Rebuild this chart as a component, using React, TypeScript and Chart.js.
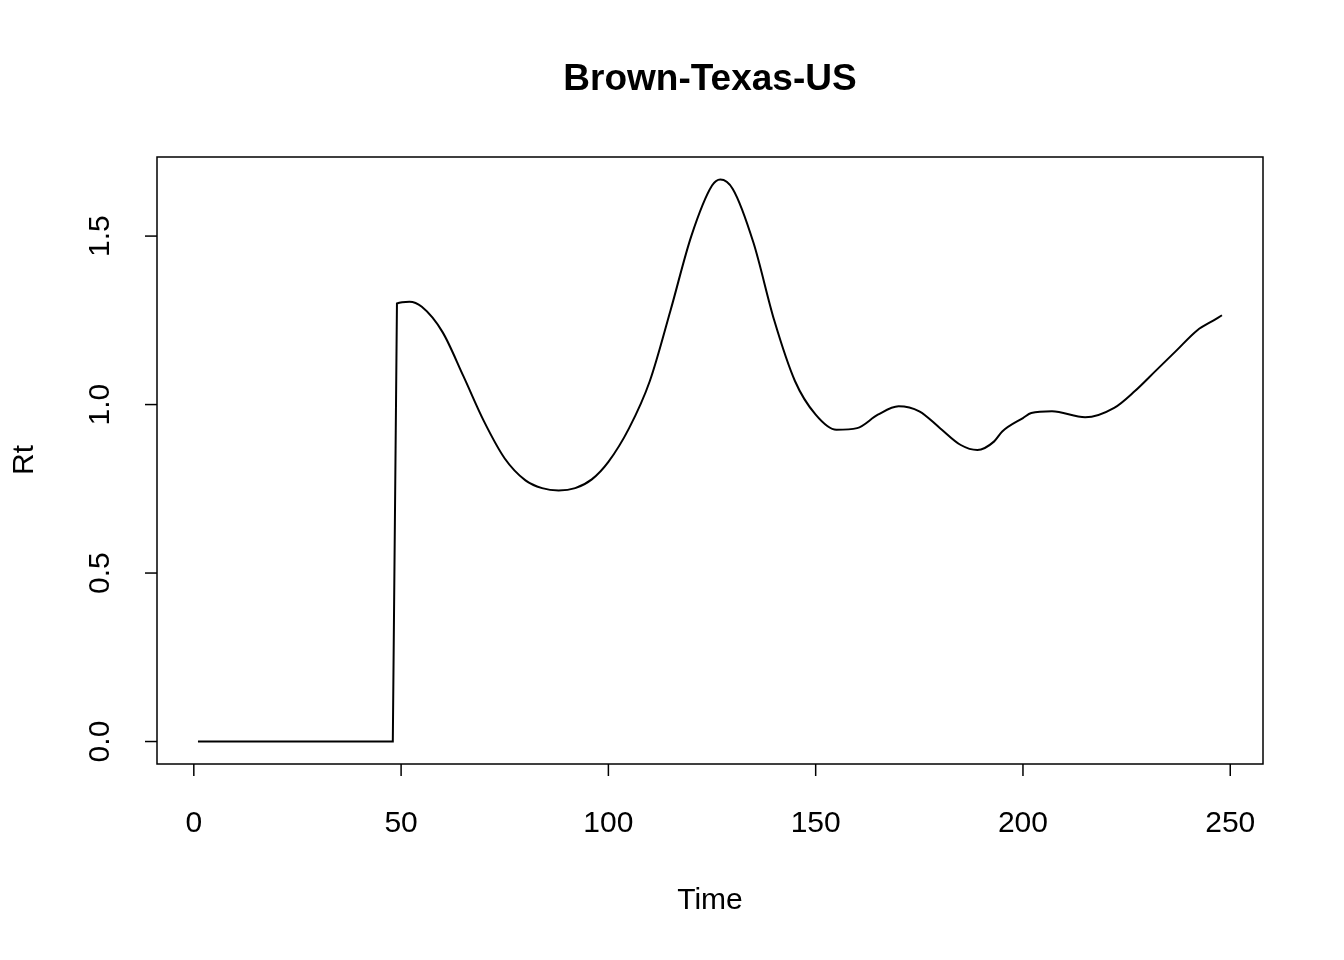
import { useEffect, useRef } from "react";
import { Chart, registerables } from "chart.js";
Chart.register(...registerables);

const times = [1, 10, 20, 30, 40, 48, 49, 52, 55, 60, 65, 70, 75, 80, 84, 88, 92, 96, 100, 105, 110, 115, 120, 125, 127, 130, 135, 140, 145, 150, 155, 160, 165, 170, 175, 180, 185, 189, 193, 195, 200, 202, 207, 215, 222, 227, 232, 237, 242, 246, 248];
const rt = [0, 0, 0, 0, 0, 0, 1.3, 1.305, 1.29, 1.215, 1.085, 0.95, 0.84, 0.775, 0.752, 0.745, 0.752, 0.778, 0.83, 0.93, 1.07, 1.28, 1.5, 1.65, 1.668, 1.64, 1.48, 1.25, 1.07, 0.97, 0.925, 0.93, 0.97, 0.995, 0.98, 0.93, 0.88, 0.865, 0.89, 0.92, 0.96, 0.975, 0.98, 0.962, 0.99, 1.04, 1.1, 1.16, 1.22, 1.25, 1.265];
const xTicks = [0, 50, 100, 150, 200, 250];
const yTicks = [0, 0.5, 1, 1.5];
const yTickLabels = ["0.0", "0.5", "1.0", "1.5"];

const FONT = '"Liberation Sans", Arial, sans-serif';

const rAxes = {
  id: "rAxes",
  afterDraw(chart: any) {
    const { ctx, chartArea: a, scales } = chart;
    const xs = scales.x, ys = scales.y;
    ctx.save();
    ctx.strokeStyle = "#000";
    ctx.fillStyle = "#000";
    ctx.lineWidth = 1.5;
    ctx.strokeRect(a.left, a.top, a.right - a.left, a.bottom - a.top);
    ctx.font = `30px ${FONT}`;
    ctx.textAlign = "center";
    ctx.textBaseline = "middle";
    xTicks.forEach((t) => {
      const px = xs.getPixelForValue(t);
      ctx.beginPath(); ctx.moveTo(px, a.bottom); ctx.lineTo(px, a.bottom + 12); ctx.stroke();
      ctx.fillText(String(t), px, 824);
    });
    yTicks.forEach((t, i) => {
      const py = ys.getPixelForValue(t);
      ctx.beginPath(); ctx.moveTo(a.left, py); ctx.lineTo(a.left - 12, py); ctx.stroke();
      ctx.save(); ctx.translate(101, py); ctx.rotate(-Math.PI / 2);
      ctx.fillText(yTickLabels[i], 0, 0); ctx.restore();
    });
    ctx.fillText("Time", 710, 901);
    ctx.save(); ctx.translate(25, 460); ctx.rotate(-Math.PI / 2);
    ctx.fillText("Rt", 0, 0); ctx.restore();
    ctx.font = `bold 37px ${FONT}`;
    ctx.fillText("Brown-Texas-US", 710, 80);
    ctx.restore();
  },
};

export default function App() {
  const ref = useRef<HTMLCanvasElement | null>(null);
  useEffect(() => {
    document.body.style.margin = "0";
    if (!ref.current) return;
    const chart = new Chart(ref.current, {
      type: "line",
      data: {
        datasets: [{
          data: times.map((t, i) => ({ x: t, y: rt[i] })),
          borderColor: "#000", borderWidth: 2, pointRadius: 0,
          cubicInterpolationMode: "monotone", fill: false,
        }],
      },
      options: {
        animation: false, responsive: false,
        layout: { padding: { left: 157, right: 81, top: 157, bottom: 196 } },
        plugins: { legend: { display: false }, tooltip: { enabled: false } },
        scales: {
          x: { type: "linear", min: -8.88, max: 257.9, display: false },
          y: { min: -0.0667, max: 1.7347, display: false },
        },
      },
      plugins: [rAxes],
    });
    return () => chart.destroy();
  }, []);
  return <canvas ref={ref} width={1344} height={960} style={{ display: "block", background: "#fff" }} />;
}
